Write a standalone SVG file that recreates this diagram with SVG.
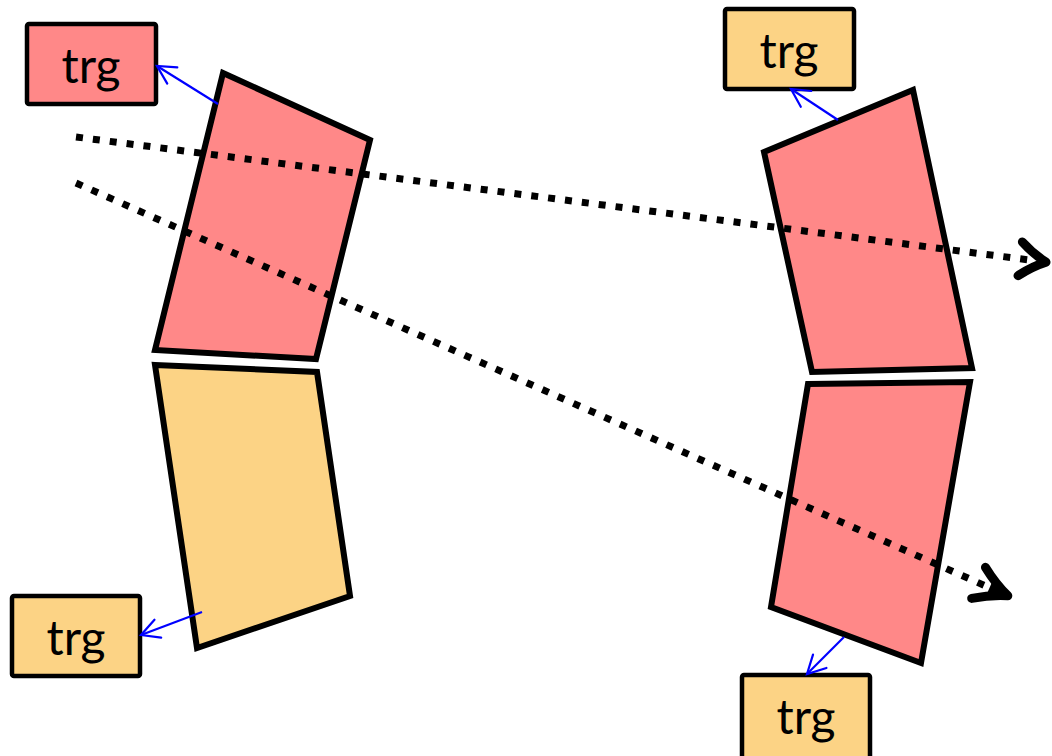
<svg xmlns="http://www.w3.org/2000/svg" width="1052" height="756" viewBox="0 0 1052 756">
  <style>
    .pink { fill: #ff8888; }
    .amber { fill: #fcd385; }
    .quad { stroke: #000; stroke-width: 6; stroke-linejoin: miter; }
    .box { stroke: #000; stroke-width: 4.5; }
    .label { font-family: Lato, "Open Sans", sans-serif; font-size: 48px; fill: #000; text-anchor: middle; }
    .link { stroke: #0000ff; stroke-width: 2.2; fill: none; }
    .ray { stroke: #000; stroke-width: 7; fill: none; stroke-dasharray: 7 10; }
  </style>
  <defs>
    <marker id="openBlue" markerUnits="userSpaceOnUse" markerWidth="30" markerHeight="30" viewBox="-24 -15 30 30" refX="0" refY="0" orient="auto">
      <path d="M -18 -9.5 L 0 0 L -18 9.5" fill="none" stroke="#0000ff" stroke-width="2.2" stroke-linecap="round"/>
    </marker>
    <marker id="chevron" markerUnits="userSpaceOnUse" markerWidth="70" markerHeight="70" viewBox="-50 -35 70 70" refX="0" refY="0" orient="auto">
      <path d="M -25 -17 Q -12 -6 1 0 Q -12 6 -25 17" fill="none" stroke="#000" stroke-width="9" stroke-linecap="round" stroke-linejoin="round"/>
    </marker>
    <marker id="dart" markerUnits="userSpaceOnUse" markerWidth="70" markerHeight="70" viewBox="-50 -35 70 70" refX="0" refY="0" orient="auto">
      <path d="M -30 -17 Q -14 -6 2 0 Q -14 6 -30 17" fill="none" stroke="#000" stroke-width="9" stroke-linecap="round" stroke-linejoin="round"/>
      <path d="M -18 -8 L 4 0 L -18 8 Z" fill="#000"/>
    </marker>
  </defs>

  <!-- left column: upper and lower pieces -->
  <g id="left-upper">
    <polygon class="quad pink" points="223,73 370,140 316,359 155,350"/>
  </g>
  <g id="left-lower">
    <polygon class="quad amber" points="155,365 317,372 350,596 197,648"/>
  </g>

  <!-- right column: upper and lower pieces -->
  <g id="right-upper">
    <polygon class="quad pink" points="764,152 913,90 972,368 812,372"/>
  </g>
  <g id="right-lower">
    <polygon class="quad pink" points="808,384 970,382 921,663 771,607"/>
  </g>

  <!-- target labels -->
  <g id="trg-left-top">
    <rect class="box pink" x="27" y="24" width="129" height="80" rx="2"/>
    <text class="label" x="91" y="83">trg</text>
  </g>
  <g id="trg-left-bottom">
    <rect class="box amber" x="12" y="596" width="128" height="80" rx="2"/>
    <text class="label" x="76" y="655">trg</text>
  </g>
  <g id="trg-right-top">
    <rect class="box amber" x="725" y="9" width="129" height="80" rx="2"/>
    <text class="label" x="789" y="68">trg</text>
  </g>
  <g id="trg-right-bottom">
    <rect class="box amber" x="742" y="675" width="128" height="95" rx="2"/>
    <text class="label" x="806" y="734">trg</text>
  </g>

  <!-- connectors -->
  <g id="connectors">
    <line class="link" x1="218" y1="104" x2="157" y2="66" marker-end="url(#openBlue)"/>
    <line class="link" x1="202" y1="612" x2="141" y2="635" marker-end="url(#openBlue)"/>
    <line class="link" x1="838" y1="120" x2="791" y2="89" marker-end="url(#openBlue)"/>
    <line class="link" x1="844" y1="637" x2="807" y2="674" marker-end="url(#openBlue)"/>
    <line class="ray" x1="76" y1="137" x2="1045" y2="262" marker-end="url(#chevron)"/>
    <line class="ray" x1="76" y1="183" x2="1006" y2="595" marker-end="url(#dart)"/>
  </g>
</svg>
